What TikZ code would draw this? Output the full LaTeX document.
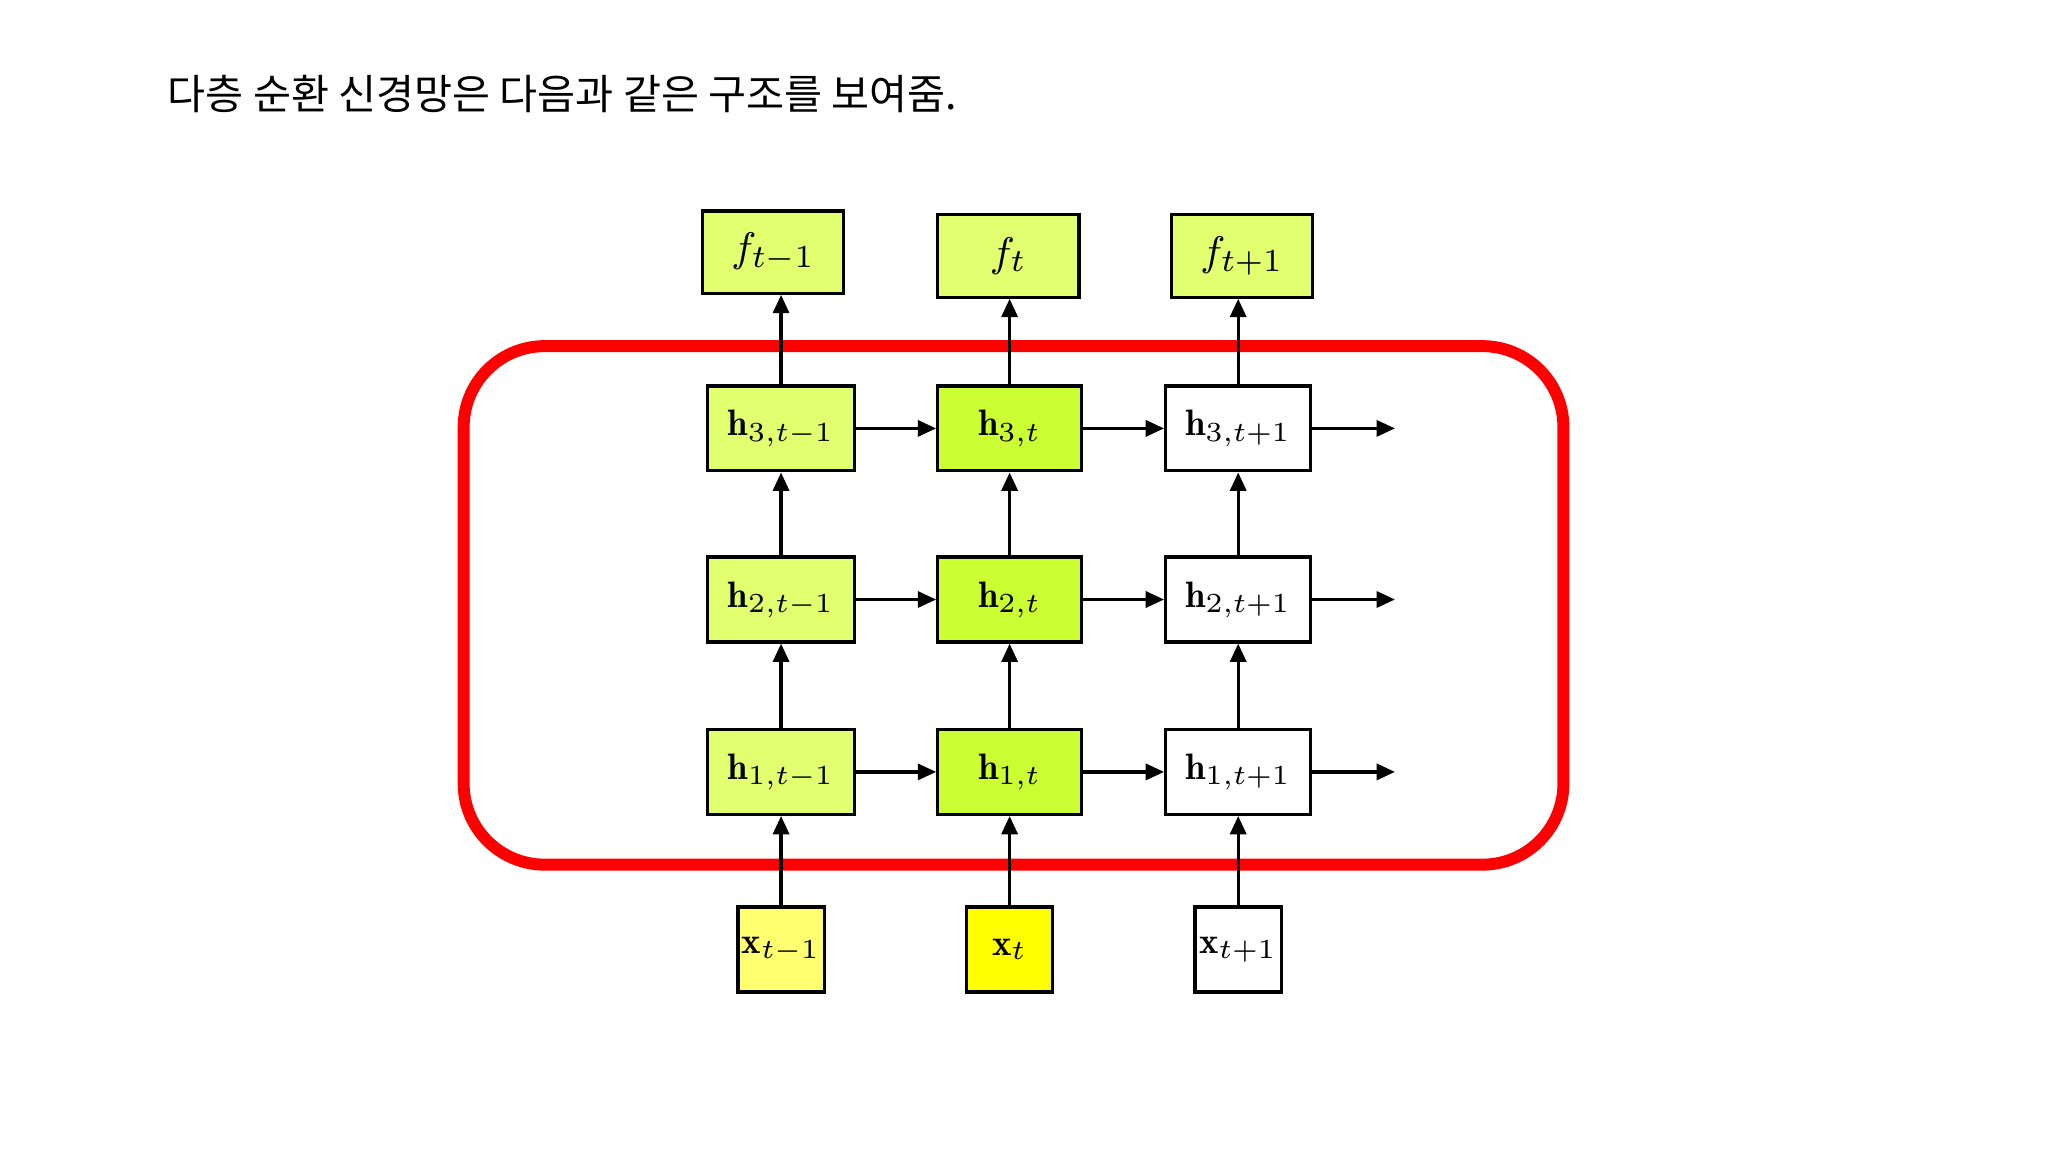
\documentclass[tikz,border=0pt]{standalone}
\usepackage{fontspec}
\newfontfamily\kr{Noto Sans CJK KR}
\usetikzlibrary{arrows.meta}
\definecolor{lg}{HTML}{E2FF70}
\definecolor{bg}{HTML}{CCFF33}
\definecolor{ly}{HTML}{FFFF70}
\definecolor{yy}{HTML}{FFFF00}
\tikzset{
 bx/.style={draw=black,line width=0.7pt,minimum width=1.1cm,minimum height=0.65cm,inner sep=0pt,font=\fontsize{8}{9}\selectfont},
 fb/.style={bx,fill=lg,minimum width=1.08cm,minimum height=0.63cm,font=\fontsize{9.5}{10}\selectfont},
 xb/.style={bx,minimum width=0.66cm,minimum height=0.65cm},
 ar/.style={-{Triangle[length=4pt,width=3.5pt]},line width=0.7pt}
}
\begin{document}
\begin{tikzpicture}[x=0.01cm,y=-0.01cm]
\useasboundingbox (0,0) rectangle (1568,882);
\node[anchor=west,font=\kr\fontsize{9}{10}\selectfont] (title) at (116,72) {다층 순환 신경망은 다음과 같은 구조를 보여줌.};
\draw[red,line width=2.6pt,rounded corners=0.62cm] (355,265) rectangle (1197,662);
% f
\node[fb] (f1) at (592,193) {$f_{t-1}$};
\node[fb] (f2) at (772,196) {$f_{t}$};
\node[fb] (f3) at (951,196) {$f_{t+1}$};
% h
\foreach \r/\y in {3/328,2/459,1/591}{
 \node[bx,fill=lg,minimum width=1.12cm] (h\r a) at (598,\y) {$\mathbf{h}_{\r,t-1}$};
 \node[bx,fill=bg] (h\r b) at (773,\y) {$\mathbf{h}_{\r,t}$};
 \node[bx,fill=white,minimum width=1.11cm] (h\r c) at (948,\y) {$\mathbf{h}_{\r,t+1}$};
 \coordinate (e\r) at (1068,\y);
 \draw[ar] (h\r a) -- (h\r b);
 \draw[ar] (h\r b) -- (h\r c);
 \draw[ar] (h\r c) -- (e\r);
}
% x
\node[xb,fill=ly] (xa) at (598,727) {$\mathbf{x}_{t-1}$};
\node[xb,fill=yy] (xb) at (773,727) {$\mathbf{x}_{t}$};
\node[xb,fill=white] (xc) at (948,727) {$\mathbf{x}_{t+1}$};
\foreach \c in {a,b,c}{
 \draw[ar] (x\c) -- (h1\c);
 \draw[ar] (h1\c) -- (h2\c);
 \draw[ar] (h2\c) -- (h3\c);
}
\draw[ar] (h3a.north) -- (h3a.north |- f1.south);
\draw[ar] (h3b) -- (f2.south -| h3b.north);
\draw[ar] (h3c) -- (f3.south -| h3c.north);
\end{tikzpicture}
\end{document}
